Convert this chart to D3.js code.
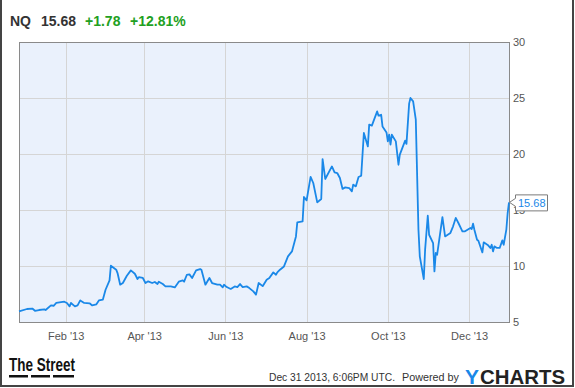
<!DOCTYPE html>
<meta charset="utf-8">
<script src="https://d3js.org/d3.v7.min.js"></script>
<style>
  body { margin: 0; background: #fff; }
  svg { font-family: "Liberation Sans", Arial, sans-serif; display: block; }
</style>
<div id="chart"></div>
<script>
// header values
const symbol = "NQ";
const lastPrice = 15.68;
const change = "+1.78";
const changePct = "+12.81%";
const stamp = "Dec 31 2013, 6:06PM UTC.";
const yTicks = [5, 10, 15, 20, 25, 30];

// daily closes
const dates = [
  "2012-12-28","2013-01-03","2013-01-07","2013-01-09","2013-01-12","2013-01-16","2013-01-17","2013-01-21",
  "2013-01-23","2013-01-25","2013-01-31","2013-02-02","2013-02-04","2013-02-05","2013-02-08","2013-02-10",
  "2013-02-12","2013-02-15","2013-02-19","2013-02-21","2013-02-24","2013-02-26","2013-03-01","2013-03-03",
  "2013-03-06","2013-03-07","2013-03-11","2013-03-12","2013-03-14","2013-03-16","2013-03-19","2013-03-22",
  "2013-03-25","2013-03-27","2013-03-28","2013-03-31","2013-04-02","2013-04-04","2013-04-07","2013-04-09",
  "2013-04-11","2013-04-12","2013-04-15","2013-04-17","2013-04-21","2013-04-24","2013-04-27","2013-04-30",
  "2013-05-01","2013-05-03","2013-05-05","2013-05-07","2013-05-10","2013-05-13","2013-05-14","2013-05-17",
  "2013-05-20","2013-05-22","2013-05-26","2013-05-28","2013-05-30","2013-05-31","2013-06-02","2013-06-05",
  "2013-06-08","2013-06-10","2013-06-12","2013-06-14","2013-06-17","2013-06-19","2013-06-22","2013-06-24",
  "2013-06-26","2013-06-29","2013-07-02","2013-07-04","2013-07-07","2013-07-09","2013-07-10","2013-07-12",
  "2013-07-15","2013-07-18","2013-07-21","2013-07-24","2013-07-25","2013-07-29","2013-07-30","2013-08-01",
  "2013-08-04","2013-08-06","2013-08-09","2013-08-12","2013-08-13","2013-08-15","2013-08-20","2013-08-22",
  "2013-08-24","2013-08-26","2013-08-28","2013-08-30","2013-09-02","2013-09-04","2013-09-05","2013-09-07",
  "2013-09-09","2013-09-11","2013-09-13","2013-09-16","2013-09-17","2013-09-19","2013-09-23","2013-09-24",
  "2013-09-26","2013-09-27","2013-09-30","2013-10-01","2013-10-02","2013-10-03","2013-10-04","2013-10-07",
  "2013-10-09","2013-10-10","2013-10-14","2013-10-15","2013-10-17","2013-10-18","2013-10-20","2013-10-22",
  "2013-10-24","2013-10-25","2013-10-28","2013-10-29","2013-10-31","2013-11-01","2013-11-04","2013-11-05",
  "2013-11-06","2013-11-07","2013-11-11","2013-11-13","2013-11-17","2013-11-19","2013-11-21","2013-11-23",
  "2013-11-26","2013-11-28","2013-12-02","2013-12-03","2013-12-04","2013-12-05","2013-12-07","2013-12-08",
  "2013-12-11","2013-12-12","2013-12-15","2013-12-17","2013-12-18","2013-12-19","2013-12-20","2013-12-22",
  "2013-12-24","2013-12-26","2013-12-27","2013-12-29","2013-12-30","2013-12-31"
];
const prices = [
  5.95,6.16,6.2,6.0,6.07,6.13,6.07,6.48,
  6.45,6.7,6.81,6.7,6.4,6.7,6.4,6.48,
  6.93,6.7,6.67,6.48,6.57,6.93,7.0,7.88,
  8.71,10.03,9.67,9.37,8.33,8.48,9.13,9.61,
  9.31,8.84,9.0,8.93,8.48,8.63,8.48,8.57,
  8.39,8.6,8.39,8.18,8.18,8.09,8.6,8.71,
  8.6,9.2,9.25,8.93,9.61,9.73,9.67,8.33,
  8.93,8.48,8.33,8.33,8.09,8.33,8.12,7.95,
  8.18,8.12,8.39,8.12,8.18,8.03,7.73,7.44,
  8.48,8.2,8.78,8.93,9.43,9.22,9.43,9.67,
  9.96,10.86,11.3,12.64,13.89,13.98,16.16,15.86,
  17.95,17.41,15.68,15.98,19.55,17.77,18.89,18.36,
  18.3,17.86,16.88,17.02,16.96,16.66,17.26,17.11,
  17.95,18.06,21.88,20.68,22.62,22.53,23.8,23.42,
  23.5,22.46,21.93,21.13,21.72,20.83,21.72,21.13,
  19.04,19.94,21.2,20.9,24.5,25.0,24.7,23.06,
  13.24,10.86,8.84,11.46,14.49,12.79,12.05,9.52,
  11.16,11.0,14.37,12.64,12.95,13.54,14.29,13.84,
  13.1,13.1,13.39,13.3,13.78,13.24,12.35,12.26,
  11.21,12.11,11.88,11.61,11.9,11.3,11.75,11.61,
  11.61,12.29,11.9,13.24,14.73,15.68
];

const parse = d3.timeParse("%Y-%m-%d");
const data = dates.map((d, i) => ({ date: parse(d), value: prices[i] }));

const W = 575, H = 388;
const plot = { left: 19, right: 509, top: 42, bottom: 322 };

const svg = d3.select("#chart").append("svg")
    .attr("width", W)
    .attr("height", H);

// frame
svg.append("path")
    .attr("d", `M1,0V386H573V0`)
    .attr("fill", "none")
    .attr("stroke", "#444")
    .attr("stroke-width", 2);

var x = d3.scaleTime()
    .domain([parse("2012-12-28"), parse("2013-12-31")])
    .range([plot.left, plot.right]);

var y = d3.scaleLinear()
    .domain([5, 30])
    .range([plot.bottom, plot.top]);

svg.append("rect")
    .attr("x", plot.left)
    .attr("y", plot.top)
    .attr("width", plot.right - plot.left)
    .attr("height", plot.bottom - plot.top)
    .attr("fill", "#eaf1fc");

// grid
const xTicks = d3.timeMonth.range(parse("2013-02-01"), parse("2014-01-01"), 2);
svg.append("g").selectAll("line")
    .data(xTicks)
    .join("line")
    .attr("x1", d => Math.round(x(d)) + 0.5)
    .attr("x2", d => Math.round(x(d)) + 0.5)
    .attr("y1", plot.top)
    .attr("y2", plot.bottom)
    .attr("stroke", "#d5d5d5");
svg.append("g").selectAll("line")
    .data(yTicks.slice(1, -1))
    .join("line")
    .attr("x1", plot.left)
    .attr("x2", plot.right)
    .attr("y1", d => Math.round(y(d)) + 0.5)
    .attr("y2", d => Math.round(y(d)) + 0.5)
    .attr("stroke", "#d5d5d5");

svg.append("rect")
    .attr("x", plot.left + 0.5)
    .attr("y", plot.top + 0.5)
    .attr("width", plot.right - plot.left)
    .attr("height", plot.bottom - plot.top)
    .attr("fill", "none")
    .attr("stroke", "#8a8a8a");

// axes
const xAxis = svg.append("g")
    .attr("transform", `translate(0,${plot.bottom})`)
    .call(d3.axisBottom(x).tickValues(xTicks).tickFormat(d3.timeFormat("%b '%y")).tickSize(0).tickPadding(10));
const yAxis = svg.append("g")
    .attr("transform", `translate(${plot.right},0)`)
    .call(d3.axisRight(y).tickValues(yTicks).tickSize(0).tickPadding(4));
[xAxis, yAxis].forEach(g => {
  g.select(".domain").remove();
  g.selectAll("text")
      .attr("font-family", "Liberation Sans, Arial, sans-serif")
      .attr("font-size", 11)
      .attr("fill", "#555");
});

// price line
svg.append("path")
    .datum(data)
    .attr("fill", "none")
    .attr("stroke", "#1a88e8")
    .attr("stroke-width", 1.8)
    .attr("stroke-linejoin", "round")
    .attr("d", d3.line().x(d => x(d.date)).y(d => y(d.value)));

// last price flag (covers the "15" tick label like the original)
const last = data[data.length - 1];
const flag = svg.append("g")
    .attr("transform", `translate(${x(last.date)},${y(last.value)})`);
flag.append("path")
    .attr("d", "M0.5,0L6.5,-4V-7.5H38.5V8.5H6.5V4Z")
    .attr("fill", "#fff")
    .attr("stroke", "#7a7a7a");
flag.append("text")
    .attr("x", 9)
    .attr("y", 4.5)
    .attr("font-size", 11)
    .attr("fill", "#1a88e8")
    .text(lastPrice.toFixed(2));

// header
const head = svg.append("g").attr("font-size", 14).attr("font-weight", "bold");
head.append("text").attr("x", 10).attr("y", 26).attr("fill", "#333").text(symbol);
head.append("text").attr("x", 41).attr("y", 26).attr("fill", "#333").text(lastPrice.toFixed(2));
head.append("text").attr("x", 85).attr("y", 26).attr("fill", "#22a022").text(change);
head.append("text").attr("x", 130).attr("y", 26).attr("fill", "#22a022").text(changePct);

// footer: TheStreet mark
svg.append("text")
    .attr("x", 9)
    .attr("y", 371)
    .attr("font-family", "Liberation Sans Narrow, Arial Narrow, sans-serif")
    .attr("font-size", 19)
    .attr("font-weight", "bold")
    .attr("fill", "#111")
    .attr("textLength", 66)
    .attr("lengthAdjust", "spacingAndGlyphs")
    .text("The Street");
svg.append("g").selectAll("rect")
    .data([[9, 28], [31, 50], [53, 74]])
    .join("rect")
    .attr("x", d => d[0])
    .attr("width", d => d[1] - d[0])
    .attr("y", 375)
    .attr("height", 2.5)
    .attr("fill", "#111");

svg.append("text")
    .attr("x", 269)
    .attr("y", 381)
    .attr("font-size", 11)
    .attr("fill", "#333")
    .attr("textLength", 126)
    .attr("lengthAdjust", "spacingAndGlyphs")
    .text(stamp);
svg.append("text")
    .attr("x", 402)
    .attr("y", 381)
    .attr("font-size", 11)
    .attr("fill", "#333")
    .attr("textLength", 57)
    .attr("lengthAdjust", "spacingAndGlyphs")
    .text("Powered by");

svg.append("text")
    .attr("x", 465)
    .attr("y", 384)
    .attr("font-size", 21)
    .attr("font-weight", "bold")
    .attr("fill", "#1a88e8")
    .text("Y");
svg.append("text")
    .attr("x", 480)
    .attr("y", 384)
    .attr("font-size", 20)
    .attr("font-weight", "bold")
    .attr("fill", "#222")
    .attr("textLength", 85)
    .attr("lengthAdjust", "spacingAndGlyphs")
    .text("CHARTS");
</script>
